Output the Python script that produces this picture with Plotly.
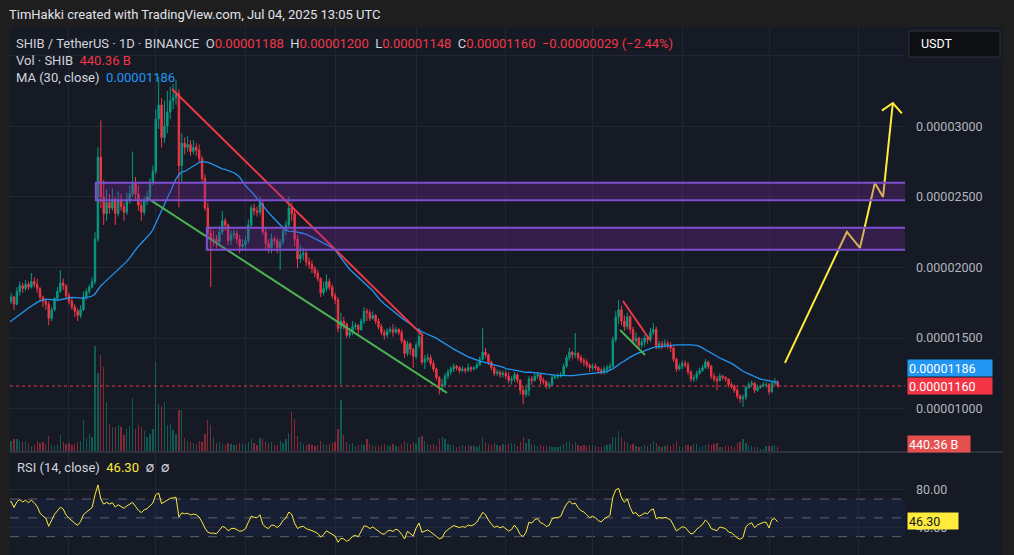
import numpy as np
import pandas as pd
import plotly.graph_objects as go

# ---------------- DATA (prices in 1e-8 USDT, volume in billions SHIB) ----------------
SCALE = 1e-8
pre_start = "2024-09-11"
pre_close = [1330, 1350, 1390, 1390, 1370, 1330, 1380, 1400, 1450, 1480, 1510, 1470, 1520, 1650, 1650,
             1770, 1870, 1840, 1800, 1720, 1660, 1640, 1640, 1740, 1740, 1770, 1750, 1730, 1700, 1700]

start_date = "2024-10-11"
close_oct = [1760, 1790, 1740, 1830, 1870, 1850, 1880, 1860, 1900, 1880, 1850, 1790, 1760, 1740, 1640, 1700, 1780, 1830, 1890, 1870, 1800]
high_oct = [1790, 1820, 1800, 1860, 1900, 1890, 1910, 1900, 1960, 1930, 1920, 1860, 1800, 1780, 1760, 1720, 1790, 1860, 1980, 1920, 1880]
low_oct = [1690, 1740, 1700, 1730, 1800, 1820, 1830, 1840, 1850, 1860, 1820, 1760, 1720, 1700, 1590, 1620, 1690, 1760, 1820, 1840, 1780]
vol_oct = [450, 1000, 1100, 1100, 1000, 900, 1000, 800, 500, 600, 1000, 800, 900, 700, 1400, 600, 500, 600, 1500, 900, 700]

close_nov = [1760, 1720, 1690, 1660, 1700, 1790, 1830, 1860, 1900, 2200, 2780, 2500, 2380, 2460, 2420, 2480, 2380, 2470, 2430, 2390, 2470, 2520, 2600, 2520, 2440, 2390, 2470, 2500, 2600, 2680]
high_nov = [1820, 1780, 1740, 1710, 1730, 1830, 1850, 1880, 1930, 2250, 2850, 3040, 2620, 2550, 2520, 2560, 2500, 2540, 2520, 2460, 2530, 2580, 2820, 2640, 2580, 2470, 2500, 2540, 2630, 2720]
low_nov = [1740, 1700, 1650, 1620, 1640, 1690, 1770, 1810, 1850, 1880, 2180, 2420, 2300, 2330, 2380, 2400, 2300, 2360, 2400, 2330, 2370, 2450, 2500, 2480, 2400, 2330, 2370, 2440, 2480, 2580]
vol_nov = [800, 600, 700, 900, 1000, 2800, 1100, 1600, 1300, 9300, 6900, 8500, 7500, 4400, 2500, 2200, 2200, 2400, 2200, 1500, 2000, 2300, 4700, 2000, 2400, 2200, 1800, 1300, 1600, 2000]

close_dec = [3050, 3150, 2920, 3000, 3100, 3180, 3200, 3230, 2720, 2880, 2850, 2870, 2820, 2850, 2830, 2770, 2630, 2420, 2240, 2200, 2200, 2180, 2250, 2330, 2300, 2190, 2230, 2240, 2200, 2150, 2160]
high_dec = [3120, 3350, 3200, 3180, 3250, 3280, 3300, 3330, 3260, 2950, 2920, 2930, 2900, 2900, 2880, 2870, 2790, 2660, 2460, 2280, 2260, 2230, 2290, 2400, 2350, 2310, 2260, 2270, 2260, 2230, 2200]
low_dec = [2660, 2980, 2850, 2880, 2950, 3050, 3120, 3150, 2425, 2600, 2800, 2820, 2790, 2800, 2790, 2740, 2600, 2400, 2200, 1860, 2150, 2140, 2150, 2230, 2260, 2160, 2160, 2200, 2170, 2100, 2120]
vol_dec = [7900, 4200, 4000, 4400, 2400, 2500, 1900, 1600, 3700, 3700, 1200, 1000, 900, 800, 700, 1000, 900, 1600, 2800, 2400, 1300, 800, 900, 700, 600, 800, 700, 600, 600, 800, 700]

close_jan = [2190, 2300, 2420, 2400, 2390, 2450, 2250, 2170, 2140, 2200, 2190, 2140, 2180, 2260, 2300, 2420, 2380, 2200, 2060, 2090, 2100, 2040, 2020, 1990, 1960, 1920, 1820, 1850, 1900, 1860, 1800]
high_jan = [2220, 2340, 2440, 2450, 2430, 2500, 2470, 2280, 2200, 2240, 2220, 2210, 2200, 2290, 2330, 2500, 2460, 2400, 2230, 2160, 2140, 2120, 2070, 2050, 2010, 1980, 1930, 1900, 1950, 1920, 1880]
low_jan = [2130, 2170, 2280, 2370, 2360, 2370, 2230, 2120, 2100, 2100, 2160, 2100, 1980, 2160, 2230, 2280, 2330, 2150, 1995, 2030, 2050, 2010, 1990, 1960, 1930, 1900, 1790, 1800, 1830, 1840, 1780]
vol_jan = [600, 900, 1100, 800, 600, 1200, 1100, 900, 800, 900, 600, 600, 1000, 800, 1100, 1700, 3500, 2900, 1400, 900, 700, 600, 700, 600, 500, 600, 1000, 700, 600, 700, 800]

close_feb = [1770, 1570, 1620, 1600, 1520, 1540, 1580, 1590, 1560, 1620, 1690, 1680, 1640, 1660, 1620, 1580, 1540, 1520, 1550, 1560, 1540, 1560, 1540, 1480, 1390, 1460, 1420, 1370]
high_feb = [1820, 1790, 1680, 1650, 1610, 1570, 1620, 1610, 1600, 1640, 1720, 1710, 1700, 1690, 1670, 1640, 1600, 1560, 1570, 1580, 1600, 1580, 1570, 1560, 1490, 1480, 1470, 1430]
low_feb = [1740, 1540, 1170, 1560, 1500, 1500, 1520, 1560, 1530, 1550, 1600, 1620, 1620, 1630, 1600, 1560, 1520, 1490, 1500, 1530, 1510, 1530, 1520, 1460, 1360, 1370, 1380, 1290]
vol_feb = [900, 2000, 4600, 1500, 900, 700, 800, 500, 600, 700, 600, 1100, 700, 600, 500, 500, 600, 700, 600, 500, 700, 500, 400, 700, 1000, 800, 700, 900]

close_mar = [1450, 1510, 1330, 1350, 1360, 1320, 1280, 1220, 1160, 1170, 1230, 1260, 1280, 1300, 1290, 1270, 1280, 1270, 1290, 1280, 1290, 1310, 1350, 1400, 1380, 1330, 1290, 1250, 1260, 1240, 1250]
high_mar = [1470, 1570, 1520, 1380, 1390, 1380, 1340, 1290, 1230, 1210, 1250, 1280, 1300, 1320, 1310, 1300, 1300, 1290, 1320, 1300, 1300, 1330, 1370, 1570, 1430, 1390, 1340, 1300, 1280, 1270, 1270]
low_mar = [1350, 1430, 1310, 1280, 1330, 1300, 1260, 1200, 1100, 1120, 1150, 1210, 1240, 1260, 1270, 1250, 1260, 1250, 1260, 1260, 1270, 1280, 1300, 1340, 1360, 1310, 1270, 1230, 1230, 1220, 1220]
vol_mar = [700, 1300, 1400, 1000, 700, 600, 700, 500, 1100, 1300, 1100, 700, 600, 600, 400, 500, 600, 500, 600, 500, 500, 400, 600, 1300, 900, 700, 600, 800, 600, 500, 700]

close_apr = [1230, 1200, 1210, 1240, 1200, 1130, 1100, 1130, 1210, 1200, 1230, 1240, 1200, 1190, 1160, 1170, 1220, 1230, 1230, 1240, 1300, 1360, 1400, 1380, 1390, 1360, 1340, 1330, 1310, 1290]
high_apr = [1270, 1260, 1230, 1260, 1250, 1210, 1160, 1170, 1230, 1230, 1250, 1260, 1250, 1220, 1200, 1190, 1240, 1240, 1250, 1260, 1320, 1380, 1430, 1410, 1535, 1400, 1380, 1360, 1350, 1320]
low_apr = [1210, 1180, 1170, 1190, 1180, 1100, 1030, 1080, 1090, 1170, 1190, 1210, 1170, 1170, 1140, 1140, 1160, 1210, 1210, 1220, 1230, 1290, 1340, 1350, 1360, 1340, 1320, 1300, 1290, 1260]
vol_apr = [600, 700, 800, 700, 500, 900, 1300, 800, 1100, 700, 600, 500, 600, 500, 500, 500, 400, 400, 400, 500, 700, 900, 1000, 700, 900, 600, 500, 600, 500, 600]

close_may = [1300, 1290, 1270, 1260, 1280, 1290, 1300, 1490, 1650, 1700, 1620, 1580, 1650, 1560, 1480, 1500, 1450, 1470, 1500, 1490, 1540, 1560, 1440, 1460, 1450, 1460, 1450, 1430, 1350, 1280, 1300]
high_may = [1320, 1320, 1300, 1290, 1300, 1310, 1320, 1510, 1690, 1770, 1730, 1660, 1680, 1660, 1580, 1540, 1510, 1500, 1520, 1520, 1570, 1605, 1580, 1480, 1480, 1490, 1480, 1470, 1440, 1360, 1320]
low_may = [1270, 1270, 1250, 1240, 1240, 1250, 1270, 1290, 1470, 1600, 1590, 1550, 1560, 1530, 1460, 1460, 1430, 1430, 1440, 1460, 1470, 1520, 1420, 1420, 1420, 1430, 1420, 1400, 1330, 1260, 1270]
vol_may = [600, 500, 400, 400, 500, 600, 700, 1300, 1300, 1800, 1300, 1000, 800, 600, 700, 500, 400, 500, 600, 500, 700, 1000, 800, 500, 400, 500, 600, 500, 700, 1000, 500]

close_jun = [1320, 1310, 1260, 1210, 1220, 1250, 1270, 1290, 1330, 1300, 1230, 1210, 1200, 1230, 1220, 1210, 1170, 1160, 1130, 1090, 1070, 1080, 1150, 1170, 1180, 1130, 1150, 1160, 1170, 1170]
high_jun = [1340, 1340, 1330, 1270, 1240, 1270, 1290, 1310, 1350, 1340, 1310, 1250, 1230, 1250, 1240, 1230, 1210, 1190, 1170, 1150, 1100, 1100, 1160, 1190, 1200, 1190, 1170, 1170, 1190, 1190]
low_jun = [1280, 1290, 1240, 1190, 1190, 1200, 1240, 1260, 1280, 1280, 1210, 1190, 1130, 1190, 1200, 1190, 1150, 1140, 1110, 1070, 1040, 1012, 1060, 1140, 1150, 1110, 1120, 1140, 1150, 1150]
vol_jun = [400, 600, 600, 500, 700, 700, 400, 500, 600, 700, 600, 700, 800, 400, 400, 500, 500, 500, 400, 800, 900, 1100, 800, 600, 500, 400, 400, 300, 300, 500]

close_jul = [1120, 1180, 1188, 1160]
high_jul = [1180, 1190, 1215, 1200]
low_jul = [1100, 1110, 1165, 1148]
vol_jul = [500, 500, 600, 440.36]

# drawings (date, price in 1e-8)
red_line_dates = ["2024-12-06 15:00", "2025-03-03 10:00"]
red_line_prices = [3263, 1515]
green_line_dates = ["2024-11-28 00:00", "2025-03-11 16:00"]
green_line_prices = [2492, 1111]
small_red_dates = ["2025-05-11 12:00", "2025-05-20 20:00"]
small_red_prices = [1762, 1486]
small_green_dates = ["2025-05-10 12:00", "2025-05-19 03:00"]
small_green_prices = [1557, 1380]
zone_starts = ["2024-11-10 07:00", "2024-12-18 16:00"]
zone_tops = [2600, 2280]
zone_bottoms = [2475, 2125]
zone_end = "2025-09-30"
arrow_dates = ["2025-07-06 12:00", "2025-07-27 22:00", "2025-08-01 10:00", "2025-08-06 14:00", "2025-08-09 10:00", "2025-08-12 19:00"]
arrow_prices = [1324, 2251, 2138, 2598, 2499, 3164]
arrowhead_dates = ["2025-08-09 00:00", "2025-08-12 19:00", "2025-08-15 22:00"]
arrowhead_prices = [3110, 3164, 3090]

price_ticks = [1000, 1500, 2000, 2500, 3000, 3500]
rsi_levels = [70, 50, 30]
rsi_ticks = [40, 80]
rsi_header_value = "46.30"
change_text = "\u22120.00000029 (\u22122.44%)"
month_starts = ["2024-11-01", "2024-12-01", "2025-01-01", "2025-02-01", "2025-03-01", "2025-04-01",
                "2025-05-01", "2025-06-01", "2025-07-01", "2025-08-01"]
x_range = ["2024-10-11 14:40", "2025-08-17 00:00"]

# ---------------- assemble ----------------
close = close_oct + close_nov + close_dec + close_jan + close_feb + close_mar + close_apr + close_may + close_jun + close_jul
high = high_oct + high_nov + high_dec + high_jan + high_feb + high_mar + high_apr + high_may + high_jun + high_jul
low = low_oct + low_nov + low_dec + low_jan + low_feb + low_mar + low_apr + low_may + low_jun + low_jul
vol = vol_oct + vol_nov + vol_dec + vol_jan + vol_feb + vol_mar + vol_apr + vol_may + vol_jun + vol_jul
n = len(close)
dates = pd.date_range(start_date, periods=n, freq="D")
opn = [pre_close[-1]] + close[:-1]
high = [max(h, o, c) for h, o, c in zip(high, opn, close)]
low = [min(l, o, c) for l, o, c in zip(low, opn, close)]

allc = pd.Series(pre_close + close, dtype=float)
ma = allc.rolling(30).mean().iloc[-n:].values
d = allc.diff()
gain = d.clip(lower=0).ewm(alpha=1 / 14, adjust=False).mean()
loss = (-d.clip(upper=0)).ewm(alpha=1 / 14, adjust=False).mean()
rsi = (100 - 100 / (1 + gain / loss)).iloc[-n:].values

S = lambda a: [v * SCALE for v in a]

# ---------------- style ----------------
W, H = 1014, 555
PX = lambda x: x / W
PY = lambda y: 1 - y / H
FRAME = "#1e1e1f"
BG = "#161a25"
GRID = "#232733"
TXT = "#d1d4dc"
AX = "#b2b5be"
GREEN = "#089981"
RED = "#F23645"
BLUE = "#2196F3"
YEL = "#FFEB3B"
PURPLE = "#7E4FD0"
FONT = "Roboto, Inter, sans-serif"

fig = go.Figure()

vcol = ["rgba(8,153,129,0.5)" if c >= o else "rgba(242,54,69,0.5)" for o, c in zip(opn, close)]
fig.add_trace(go.Bar(x=dates, y=vol, marker=dict(color=vcol, line=dict(width=0)),
                     width=0.45 * 86400000, xaxis="x", yaxis="y", hoverinfo="skip"))

fig.add_trace(go.Candlestick(x=dates, open=S(opn), high=S(high), low=S(low), close=S(close),
                             xaxis="x", yaxis="y2", whiskerwidth=0,
                             increasing=dict(line=dict(color=GREEN, width=1), fillcolor=GREEN),
                             decreasing=dict(line=dict(color=RED, width=1), fillcolor=RED)))

fig.add_trace(go.Scatter(x=dates, y=ma * SCALE, mode="lines", line=dict(color=BLUE, width=1.3),
                         xaxis="x", yaxis="y2"))

for dx, py, col in [(red_line_dates, red_line_prices, RED), (green_line_dates, green_line_prices, "#4CAF50"),
                    (small_red_dates, small_red_prices, RED), (small_green_dates, small_green_prices, "#4CAF50")]:
    fig.add_trace(go.Scatter(x=pd.to_datetime(dx), y=S(py), mode="lines",
                             line=dict(color=col, width=2), xaxis="x", yaxis="y2"))

fig.add_trace(go.Scatter(x=pd.to_datetime(arrow_dates), y=S(arrow_prices), mode="lines",
                         line=dict(color=YEL, width=2), xaxis="x", yaxis="y2"))
fig.add_trace(go.Scatter(x=pd.to_datetime(arrowhead_dates), y=S(arrowhead_prices), mode="lines",
                         line=dict(color=YEL, width=2), xaxis="x", yaxis="y2"))

fig.add_trace(go.Scatter(x=dates, y=rsi, mode="lines", line=dict(color=YEL, width=1),
                         xaxis="x2", yaxis="y3"))

shapes = []
shapes.append(dict(type="rect", xref="paper", yref="paper", x0=PX(10), x1=PX(1003), y0=0, y1=PY(27),
                   fillcolor=BG, line=dict(width=0), layer="below"))
for st, top, bot in zip(zone_starts, zone_tops, zone_bottoms):
    shapes.append(dict(type="rect", xref="x", yref="y2", x0=pd.Timestamp(st), x1=pd.Timestamp(zone_end),
                       y0=bot * SCALE, y1=top * SCALE, fillcolor="rgba(120,40,160,0.30)",
                       line=dict(color=PURPLE, width=2), layer="above"))
shapes.append(dict(type="rect", xref="x2", yref="y3", x0=pd.Timestamp(x_range[0]), x1=pd.Timestamp(x_range[1]),
                   y0=rsi_levels[2], y1=rsi_levels[0], fillcolor="rgba(40,80,200,0.10)", line=dict(width=0), layer="below"))
for lv in rsi_levels:
    shapes.append(dict(type="line", xref="x2", yref="y3", x0=pd.Timestamp(x_range[0]), x1=pd.Timestamp(x_range[1]),
                       y0=lv, y1=lv, line=dict(color="rgba(150,154,166,0.55)", width=1, dash="dash"), layer="below"))
shapes.append(dict(type="line", xref="paper", yref="y2", x0=PX(10), x1=PX(905), y0=close[-1] * SCALE,
                   y1=close[-1] * SCALE, line=dict(color=RED, width=1, dash="dot")))
shapes.append(dict(type="line", xref="paper", yref="paper", x0=PX(10), x1=PX(1003), y0=PY(452), y1=PY(452),
                   line=dict(color="#2e323e", width=2)))
shapes.append(dict(type="rect", xref="paper", yref="paper", x0=PX(909), x1=PX(1000), y0=PY(57), y1=PY(31),
                   fillcolor="#0e0f12", line=dict(color="#2f323a", width=1)))

ann = []
def text(x, y, s, size=13, color=TXT, family=FONT):
    ann.append(dict(xref="paper", yref="paper", x=PX(x), y=PY(y), text=s, showarrow=False,
                    xanchor="left", yanchor="middle", font=dict(size=size, color=color, family=family)))

sp = "\u00a0"
text(7, 15, "TimHakki created with TradingView.com, Jul 04, 2025 13:05 UTC", 13, "#e0e3eb")
o_, h_, l_, c_ = opn[-1], high[-1], low[-1], close[-1]
red = lambda v: f"<span style='color:{RED}'>{v}</span>"
line1 = ("SHIB / TetherUS · 1D · BINANCE" + sp * 2 + "O" + red(f"{o_ * SCALE:.8f}") + sp * 2 + "H" + red(f"{h_ * SCALE:.8f}")
         + sp * 2 + "L" + red(f"{l_ * SCALE:.8f}") + sp * 2 + "C" + red(f"{c_ * SCALE:.8f}") + sp * 2
         + red(change_text))
text(14, 44, line1)
text(14, 61, "Vol · SHIB" + sp * 2 + red(f"{vol[-1]:.2f} B"))
text(14, 77, "MA (30, close)" + sp * 2 + f"<span style='color:{BLUE}'>{ma[-1] * SCALE:.8f}</span>")
text(15, 467, "RSI (14, close)" + sp * 2 + f"<span style='color:{YEL}'>{rsi_header_value}</span>" + sp * 2 + "∅" + sp * 2 + "∅")
text(919, 44, "USDT", 12.5, "#ffffff")

def tag(yref, yval, s, bg, fg, w):
    ann.append(dict(xref="paper", yref=yref, x=PX(907), y=yval, text=s, showarrow=False, xanchor="left",
                    yanchor="middle", bgcolor=bg, width=w, height=14, align="left", borderpad=1,
                    font=dict(size=12.5, color=fg, family=FONT)))

tag("y2", (close[-1] + 128) * SCALE, f"{ma[-1] * SCALE:.8f}", BLUE, "#ffffff", 82)
tag("y2", close[-1] * SCALE, f"{close[-1] * SCALE:.8f}", RED, "#ffffff", 82)
tag("y", vol[-1] + 300, f"{vol[-1]:.2f} B", "#e5504f", "#ffffff", 60)
tag("y3", float(rsi_header_value), rsi_header_value, YEL, "#131722", 48)

fig.update_layout(
    width=W, height=H, margin=dict(l=0, r=0, t=0, b=0),
    paper_bgcolor=FRAME, plot_bgcolor=BG, showlegend=False,
    font=dict(family=FONT, color=AX, size=12),
    shapes=shapes, annotations=ann, bargap=0,
    xaxis=dict(domain=[PX(10), PX(905)], anchor="y", type="date", range=x_range,
               rangeslider=dict(visible=False), tickvals=month_starts, showticklabels=False,
               showgrid=True, gridcolor=GRID, gridwidth=1, zeroline=False, showline=False, ticks=""),
    yaxis=dict(domain=[PY(452), PY(28)], range=[0, 37200], visible=False, showgrid=False, fixedrange=True),
    yaxis2=dict(domain=[PY(452), PY(28)], overlaying="y", anchor="x", side="right",
                range=[693 * SCALE, 3695 * SCALE], tickvals=S(price_ticks),
                ticktext=[f"{t * SCALE:.8f}" if t < 3500 else "" for t in price_ticks],
                showgrid=True, gridcolor=GRID, zeroline=False, ticks="", ticklabelstandoff=10,
                tickfont=dict(size=12.5, color=AX, family=FONT)),
    xaxis2=dict(domain=[PX(10), PX(905)], anchor="y3", type="date", range=x_range, matches="x",
                tickvals=month_starts, showticklabels=False, showgrid=True, gridcolor=GRID,
                zeroline=False, ticks="", rangeslider=dict(visible=False)),
    yaxis3=dict(domain=[0, PY(453)], anchor="x2", side="right", range=[10.5, 119],
                tickvals=rsi_ticks, ticktext=[f"{t:.2f}" for t in rsi_ticks], showgrid=True,
                gridcolor=GRID, zeroline=False, ticks="", ticklabelstandoff=10,
                tickfont=dict(size=12.5, color=AX, family=FONT)),
)
fig.write_html("out.html")
